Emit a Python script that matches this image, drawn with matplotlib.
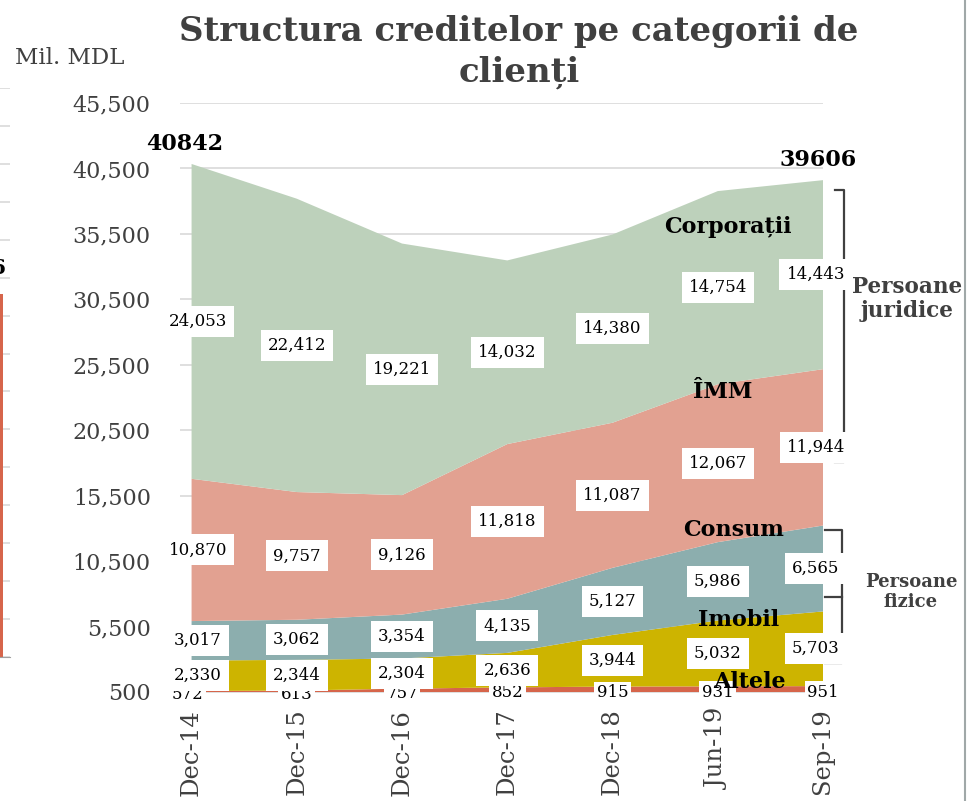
import matplotlib
matplotlib.use('Agg')
import matplotlib.pyplot as plt
import matplotlib.transforms as mtransforms
import numpy as np

# Data:
categories = ['Dec-14', 'Dec-15', 'Dec-16', 'Dec-17', 'Dec-18', 'Jun-19', 'Sep-19']
altele = [572, 613, 757, 852, 915, 931, 951]
imobil = [2330, 2344, 2304, 2636, 3944, 5032, 5703]
consum = [3017, 3062, 3354, 4135, 5127, 5986, 6565]
imm = [10870, 9757, 9126, 11818, 11087, 12067, 11944]
corporatii = [24053, 22412, 19221, 14032, 14380, 14754, 14443]
series_names = ['Altele', 'Imobil', 'Consum', 'ÎMM', 'Corporații']
series_colors = ['#D6654B', '#CDB400', '#8CAEAE', '#E2A191', '#BDD1BB']
y_ticks = [500, 5500, 10500, 15500, 20500, 25500, 30500, 35500, 40500, 45500]

# Neighbouring (cropped) chart on the left edge:
left_bar_value = [9.58]
left_bar_label = '39606'

GRAY = '#404040'
plt.rcParams['font.family'] = ['DejaVu Serif']

W, H = 969, 801
fig = plt.figure(figsize=(W / 100, H / 100), dpi=100)

def fx(px):
    return px / W

def fy(py):
    return 1 - py / H

# Main axes (pixel box 180..823 x 103..692):
ax = fig.add_axes([fx(180), fy(692), fx(823) - fx(180), fy(103) - fy(692)])

x = np.arange(len(categories))
stack = np.vstack([altele, imobil, consum, imm, corporatii])
ax.stackplot(x, stack, colors=series_colors, linewidth=0, zorder=2)

ax.set_xlim(-0.11, len(categories) - 1)
ax.set_ylim(y_ticks[0], y_ticks[-1])
ax.set_yticks(y_ticks)
ax.set_yticklabels([f'{v:,}' for v in y_ticks], fontsize=16, color=GRAY)
ax.set_xticks(x)
ax.set_xticklabels(categories, rotation=90, fontsize=17.5, color=GRAY)
ax.tick_params(axis='y', length=0, pad=21)
ax.tick_params(axis='x', length=0, pad=12)
ax.grid(axis='y', color='#D9D9D9', linewidth=1.2)
ax.set_axisbelow(True)
for side in ['left', 'right', 'top']:
    ax.spines[side].set_visible(False)
ax.spines['bottom'].set_color('#D9D9D9')
ax.spines['bottom'].set_linewidth(1.2)
ax.spines['bottom'].set_zorder(1)

# Data labels at the centre of each band:
cum = np.cumsum(stack, axis=0)
bottoms = cum - stack
for i in range(stack.shape[0]):
    for j in range(stack.shape[1]):
        dx = 6 if j == 0 else (-7 if j == len(categories) - 1 else 0)
        pad = 0.42
        if i == 0:
            dx = -4 if j == 0 else 0
            pad = 0.15
        ax.annotate(f'{stack[i, j]:,}', xy=(x[j], bottoms[i, j] + stack[i, j] / 2),
                    xytext=(dx * 0.75, 0), textcoords='offset points',
                    ha='center', va='center', fontsize=12, color='black',
                    annotation_clip=False, zorder=5,
                    bbox=dict(boxstyle=f'square,pad={pad}', fc='white', ec='none'))

# Series names inside the chart:
name_pos = {'Corporații': (5.1, 36030), 'ÎMM': (5.05, 23420),
            'Consum': (5.15, 12880), 'Imobil': (5.2, 6000), 'Altele': (5.3, 1260)}
for name in series_names:
    px, py = name_pos[name]
    ax.text(px, py, name, ha='center', va='center', fontsize=16,
            fontweight='bold', color='black', zorder=6)

# Totals:
totals = cum[-1]
ax.text(x[0] - 0.07, totals[0] + 700, f'{totals[0]}', ha='center', va='bottom',
        fontsize=16, fontweight='bold', color='black')
ax.text(x[-1] - 0.05, totals[-1] + 700, f'{totals[-1]}', ha='center', va='bottom',
        fontsize=16, fontweight='bold', color='black')

# Brackets (axes x, data y):
trans = mtransforms.blended_transform_factory(ax.transAxes, ax.transData)
ax.plot([1.018, 1.032, 1.032, 1.018], [38855, 38855, 18073, 18073],
        transform=trans, color=GRAY, lw=1.6, clip_on=False)
ax.plot([1.003, 1.030, 1.030, 1.003], [12878, 12878, 2716, 2716],
        transform=trans, color=GRAY, lw=1.6, clip_on=False)
ax.plot([1.003, 1.030], [7759, 7759], transform=trans, color=GRAY, lw=1.6, clip_on=False)

fig.text(fx(907), fy(299), 'Persoane\njuridice', ha='center', va='center',
         fontsize=15.5, fontweight='bold', color=GRAY, linespacing=1.1)
fig.text(fx(911), fy(592), 'Persoane\nfizice', ha='center', va='center',
         fontsize=13, fontweight='bold', color=GRAY, linespacing=1.1)

# Title and unit:
fig.text(fx(519), fy(52), 'Structura creditelor pe categorii de\nclienți', ha='center',
         va='center', fontsize=24.5, fontweight='bold', color=GRAY, linespacing=1.32)
fig.text(fx(70), fy(58), 'Mil. MDL', ha='center', va='center', fontsize=16.5, color=GRAY)

# Right frame line:
fig.add_artist(plt.Line2D([fx(965), fx(965)], [0, 1], color='#A0A8A8', lw=1.5))

# Cropped neighbouring chart on the left:
ax0 = fig.add_axes([-0.1, fy(657), fx(10) + 0.1, fy(88) - fy(657)])
ax0.bar([0.6], left_bar_value, width=0.67, color='#D6654B', zorder=2)
ax0.set_xlim(0, 1)
ax0.set_ylim(0, 15)
ax0.set_yticks(np.arange(0, 16))
ax0.grid(axis='y', color='#D9D9D9', linewidth=1.2)
ax0.set_axisbelow(True)
ax0.tick_params(length=0, labelleft=False, labelbottom=False)
for side in ['left', 'right', 'top']:
    ax0.spines[side].set_visible(False)
ax0.spines['bottom'].set_color('#A0A0A0')
ax0.text(0.97, left_bar_value[0] + 0.4, left_bar_label, ha='right', va='bottom',
         fontsize=15, fontweight='bold', color='black', clip_on=False)

fig.savefig('out.png', dpi=100)
